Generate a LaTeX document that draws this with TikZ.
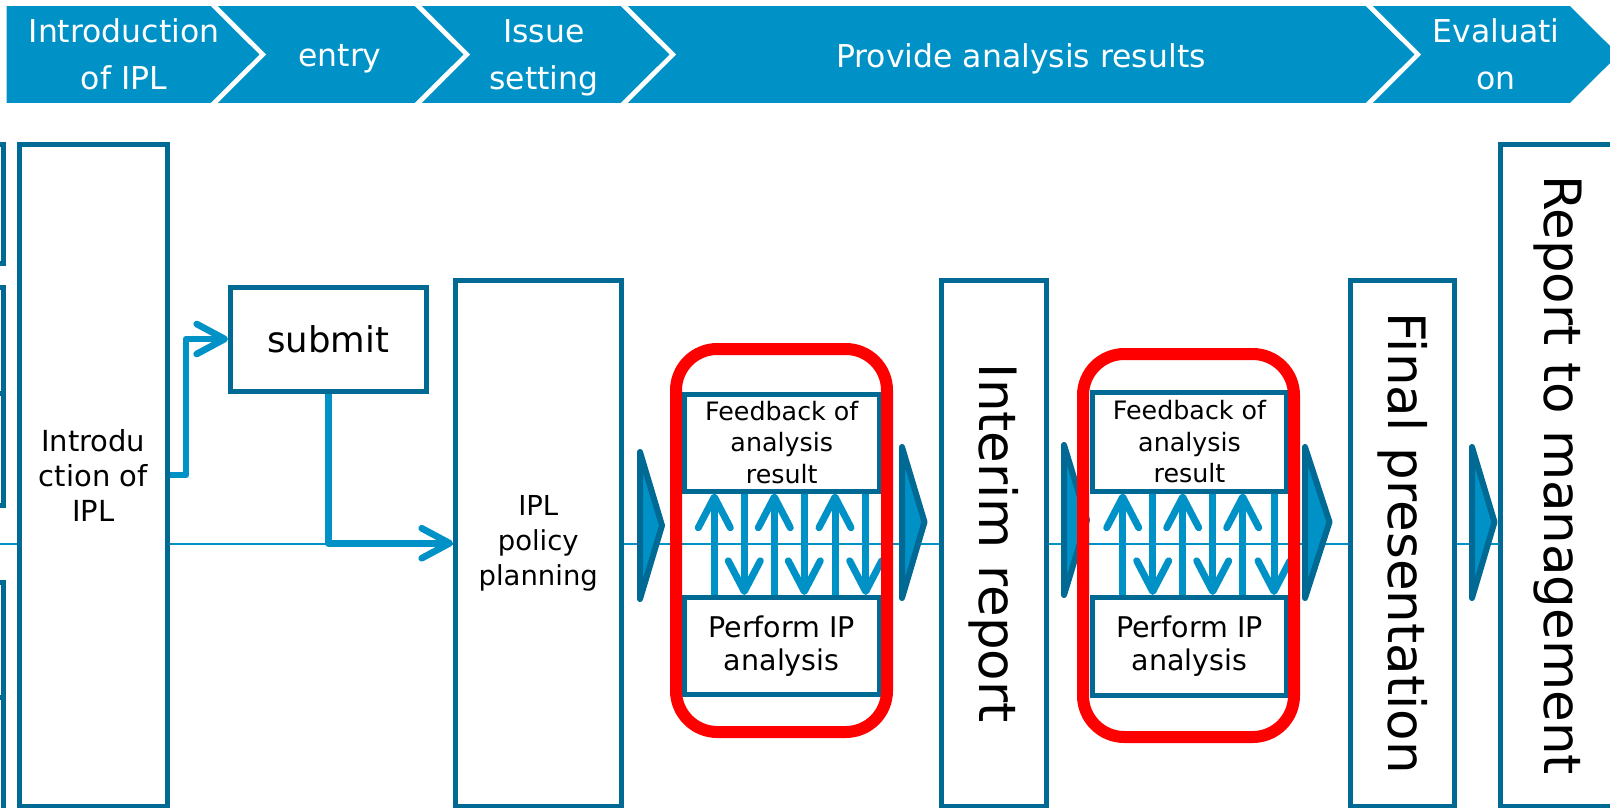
\documentclass[tikz,border=0pt]{standalone}
\usepackage{fontspec}
\setmainfont{DejaVu Sans}
\usepackage{graphicx}
\usetikzlibrary{arrows.meta}
\newdimen\upx \upx=0.75pt
\definecolor{boxblue}{HTML}{006A94}
\definecolor{lightblue}{HTML}{0092C7}
\definecolor{grpred}{HTML}{FF0000}
\begin{document}
\begin{tikzpicture}[x=0.75pt,y=-0.75pt,
  box/.style={draw=boxblue, line width=3.75pt, fill=white, inner sep=0pt, text=black, align=center},
  chev/.style={fill=lightblue, draw=white, line width=3.4pt, line join=miter},
  chevtext/.style={text=white, align=center, font=\fontsize{23.6}{35.25}\selectfont},
  timeline/.style={draw=lightblue, line width=1.5pt},
  conn/.style={draw=lightblue, line width=5pt, line join=round, -{Straight Barb[length=21pt,width=22.5pt,round]}},
  varrow/.style={draw=lightblue, line width=5.25pt, -{Straight Barb[length=23pt,width=24pt,round]}},
  tri/.style={fill=lightblue, draw=boxblue, line width=4.5pt, line join=round},
  grp/.style={draw=grpred, line width=9pt, rounded corners=31pt, inner sep=0pt, minimum width=211\upx, minimum height=383\upx},
  vtext/.style={font=\fontsize{38.6}{46}\selectfont},
  fbtext/.style={font=\fontsize{19}{23.6}\selectfont},
  pftext/.style={font=\fontsize{21.4}{24.75}\selectfont},
]
\useasboundingbox (0,0) rectangle (1610,807);

% top chevrons
\path[chev] (4.4,3.7) -- (212,3.7) -- (263,54.5) -- (212,105.3) -- (4.4,105.3) -- cycle;
\path[chev] (212,3.7) -- (416,3.7) -- (467,54.5) -- (416,105.3) -- (212,105.3) -- (263,54.5) -- cycle;
\path[chev] (416,3.7) -- (622,3.7) -- (673,54.5) -- (622,105.3) -- (416,105.3) -- (467,54.5) -- cycle;
\path[chev] (622,3.7) -- (1367,3.7) -- (1418,54.5) -- (1367,105.3) -- (622,105.3) -- (673,54.5) -- cycle;
\path[chev] (1367,3.7) -- (1571,3.7) -- (1622,54.5) -- (1571,105.3) -- (1367,105.3) -- (1418,54.5) -- cycle;
\node[chevtext] (ct1) at (124,54.5) {Introduction\\of IPL};
\node[chevtext] (ct2) at (340,59) {entry};
\node[chevtext] (ct3) at (544,57.5) {Issue\\setting};
\node[chevtext] (ct4) at (1021,59) {Provide analysis results};
\node[chevtext] (ct5) at (1496,54.5) {Evaluati\\on};

% timeline
\coordinate (tl0) at (0,544);
\coordinate (tl1) at (1610,544);
\draw[timeline] (tl0) -- (tl1);

% left partial boxes
\node[box, minimum width=63\upx, minimum height=119\upx] (lb1) at (-28.5,203.5) {};
\node[box, minimum width=63\upx, minimum height=106\upx] (lb2) at (-28.5,340) {};
\node[box, minimum width=63\upx, minimum height=112\upx] (lb3) at (-28.5,449) {};
\node[box, minimum width=63\upx, minimum height=115\upx] (lb4) at (-28.5,639.5) {};
\node[box, minimum width=63\upx, minimum height=173\upx] (lb5) at (-28.5,783.5) {};

% main boxes
\node[box, minimum width=148.5\upx, minimum height=662\upx, font=\fontsize{21.75}{26.25}\selectfont] (intro) at (93.25,475) {Introdu\\ction of\\IPL};
\node[box, minimum width=195.5\upx, minimum height=104\upx, font=\fontsize{26.6}{32}\selectfont] (submit) at (328.25,339) {submit};
\node[box, minimum width=165.5\upx, minimum height=525.5\upx, font=\fontsize{20.6}{26.25}\selectfont] (ipl) at (538.25,543.25) {IPL\\policy\\planning};
\node[box, vtext, minimum width=104.5\upx, minimum height=525.5\upx] (interim) at (993.75,543.25) {\rotatebox{-90}{Interim report}};
\node[box, vtext, minimum width=104.5\upx, minimum height=525.5\upx] (final) at (1402.25,543.25) {\rotatebox{-90}{Final presentation}};
\node[box, vtext, minimum width=115.5\upx, minimum height=662\upx] (report) at (1558.25,475) {\rotatebox{-90}{Report to management}};

% connectors
\draw[conn] (intro.east) -- ++(16,0) |- (submit.west);
\draw[conn] (submit.south) |- (ipl.west);

% flow triangles
\draw[tri] (640,452) -- (662,525.5) -- (640,599) -- cycle;
\draw[tri] (902,447) -- (924.5,522) -- (902,598) -- cycle;
\draw[tri] (1064,445) -- (1087,520) -- (1064,595) -- cycle;
\draw[tri] (1305,447) -- (1329.5,522) -- (1305,598) -- cycle;
\draw[tri] (1472,447) -- (1494.5,522) -- (1472,598) -- cycle;

% group 1
\node[box, fbtext, minimum width=195.5\upx, minimum height=97\upx] (fb1) at (781.75,442.5) {Feedback of\\analysis\\result};
\node[box, pftext, minimum width=195.5\upx, minimum height=96.8\upx] (pf1) at (781.75,645.9) {Perform IP\\analysis};
\foreach \xx in {714.3,774.3,835} {\draw[varrow] (pf1.north -| \xx,0) -- (fb1.south -| \xx,0);}
\foreach \xx in {744.3,804.3,865.7} {\draw[varrow] (fb1.south -| \xx,0) -- (pf1.north -| \xx,0);}

% group 2
\node[box, fbtext, minimum width=194\upx, minimum height=98.5\upx] (fb2) at (1189.5,441.75) {Feedback of\\analysis\\result};
\node[box, pftext, minimum width=194\upx, minimum height=98\upx] (pf2) at (1189.5,646.5) {Perform IP\\analysis};
\foreach \xx in {1122.7,1182.7,1242.7} {\draw[varrow] (pf2.north -| \xx,0) -- (fb2.south -| \xx,0);}
\foreach \xx in {1152.7,1212.7,1274} {\draw[varrow] (fb2.south -| \xx,0) -- (pf2.north -| \xx,0);}

% red group frames
\node[grp] (grp1) at (781.5,540.5) {};
\node[grp] (grp2) at (1188.5,545.5) {};
\end{tikzpicture}
\end{document}
